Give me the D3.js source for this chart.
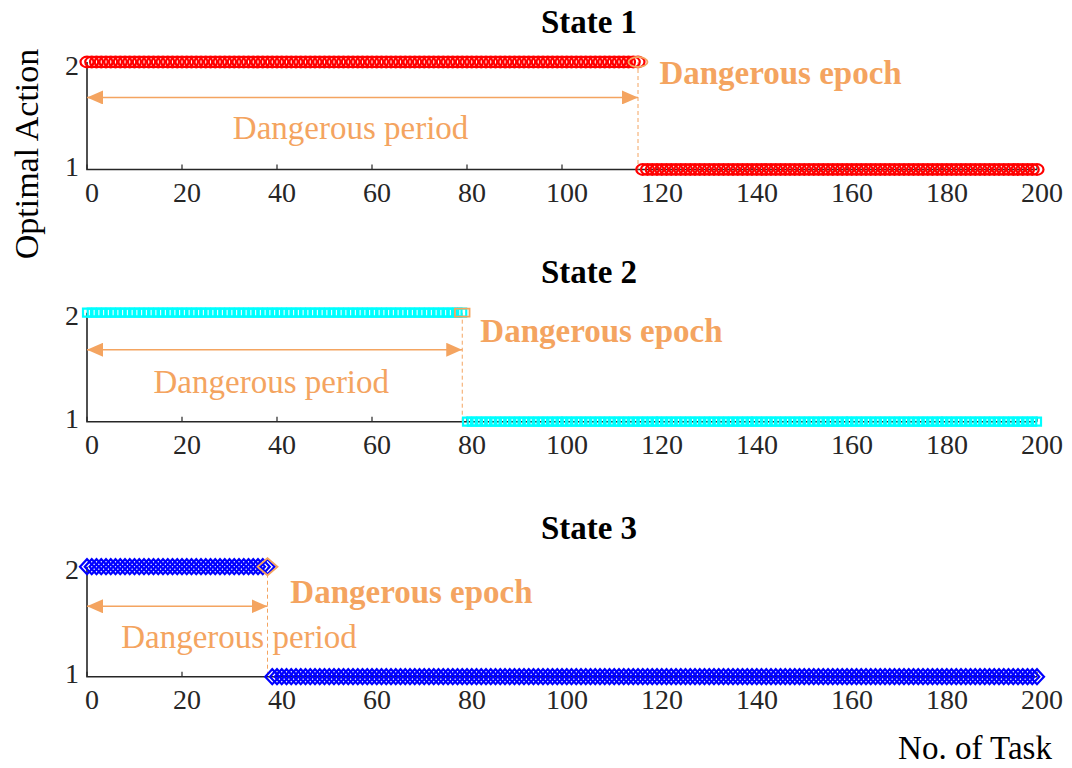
<!DOCTYPE html>
<html>
<head>
<meta charset="utf-8">
<script src="https://cdn.jsdelivr.net/npm/d3@7"></script>
<style>
  body { margin: 0; background: #fff; }
  svg text { font-family: 'Liberation Serif', 'Times New Roman', serif; }
</style>
</head>
<body>
<div id="chart"></div>
<script>
// data
const stateNames = ['State 1', 'State 2', 'State 3'];
const taskRange = [0, 200];
const xTicks = [0, 20, 40, 60, 80, 100, 120, 140, 160, 180, 200];
const yTicks = [1, 2];
const actionBefore = 2;
const actionAfter = 1;
const dangerousEpoch = [116, 79, 38];   // last task with action 2
const arrowLevel = [1.67, 1.66, 1.64];
const periodLabelX = [55.5, 38.8, 32];
const periodLabelY = [1.39, 1.36, 1.36];
const epochLabelX = [120.5, 82.8, 42.8];
const epochLabelY = [1.9, 1.83, 1.77];
const markerColors = ['#ff0000', '#00ffff', '#0000ff'];
const markerShapes = ['circle', 'square', 'diamond'];

const orange = '#f4a460';
const axisColor = '#262626';

const width = 1072, height = 768;
const panels = [
    { top: 62, bottom: 169.5, title: 22 },
    { top: 312.7, bottom: 421.7, title: 272 },
    { top: 566.7, bottom: 676.7, title: 528 }
];

const svg = d3.select('#chart')
    .append('svg')
        .attr('width', width)
        .attr('height', height);

const x = d3.scaleLinear()
    .domain(taskRange)
    .range([87, 1037]);

// marker path generators
function markerPath(shape, big) {
    if (shape === 'circle') {
        let rx = big ? 9.5 : 6.5, ry = big ? 5 : 5.3;
        return 'M' + (-rx) + ',0A' + rx + ',' + ry + ' 0 1,0 ' + rx + ',0A' + rx + ',' + ry + ' 0 1,0 ' + (-rx) + ',0Z';
    }
    if (shape === 'square') {
        let hw = big ? 7.3 : 4, hh = 4;
        return 'M' + (-hw) + ',' + (-hh) + 'H' + hw + 'V' + hh + 'H' + (-hw) + 'Z';
    }
    let hw = big ? 10 : 7, hh = big ? 8.5 : 7.5;
    return 'M' + (-hw) + ',0L0,' + (-hh) + 'L' + hw + ',0L0,' + hh + 'Z';
}

// arrow heads
const defs = svg.append('defs');
defs.append('marker')
    .attr('id', 'arrowHead')
    .attr('viewBox', '0 0 16 14')
    .attr('refX', 16)
    .attr('refY', 7)
    .attr('markerWidth', 16)
    .attr('markerHeight', 14)
    .attr('markerUnits', 'userSpaceOnUse')
    .attr('orient', 'auto-start-reverse')
    .append('path')
        .attr('d', 'M0,0L16,7L0,14Z')
        .attr('fill', orange);

panels.forEach((p, i) => {
    let y = d3.scaleLinear()
        .domain([1, 2])
        .range([p.bottom, p.top]);

    let tasks = d3.range(taskRange[0], taskRange[1] + 1);
    let actions = tasks.map(t => ({ task: t, action: t <= dangerousEpoch[i] ? actionBefore : actionAfter }));

    let g = svg.append('g').attr('class', 'panel-' + (i + 1));

    // title
    g.append('text')
        .attr('x', 589)
        .attr('y', p.title)
        .attr('text-anchor', 'middle')
        .attr('dominant-baseline', 'central')
        .style('font-size', '33px')
        .style('font-weight', 'bold')
        .attr('fill', '#000')
        .text(stateNames[i]);

    // axes lines
    g.append('path')
        .attr('d', 'M' + x(0) + ',' + y(2) + 'V' + y(1) + 'H' + x(200))
        .attr('fill', 'none')
        .attr('stroke', axisColor)
        .attr('stroke-width', 1.6);

    g.append('g')
        .selectAll('line')
        .data(xTicks)
        .enter()
        .append('line')
            .attr('x1', d => x(d))
            .attr('x2', d => x(d))
            .attr('y1', y(1))
            .attr('y2', y(1) - 5)
            .attr('stroke', axisColor)
            .attr('stroke-width', 1.2);

    g.append('g')
        .selectAll('text')
        .data(xTicks)
        .enter()
        .append('text')
            .attr('x', d => x(d) + 5)
            .attr('y', y(1) + 23)
            .attr('text-anchor', 'middle')
            .attr('dominant-baseline', 'central')
            .style('font-size', '28px')
            .attr('fill', axisColor)
            .text(d => d);

    g.append('g')
        .selectAll('text')
        .data(yTicks)
        .enter()
        .append('text')
            .attr('x', 79)
            .attr('y', d => y(d) + (d === 2 ? 3 : -3))
            .attr('text-anchor', 'end')
            .attr('dominant-baseline', 'central')
            .style('font-size', '28px')
            .attr('fill', axisColor)
            .text(d => d);

    // dashed epoch line
    g.append('line')
        .attr('x1', x(dangerousEpoch[i]))
        .attr('x2', x(dangerousEpoch[i]))
        .attr('y1', y(2))
        .attr('y2', y(1))
        .attr('stroke', orange)
        .attr('stroke-width', 1)
        .attr('stroke-dasharray', '4,3');

    // markers
    g.append('g')
        .selectAll('path')
        .data(actions)
        .enter()
        .append('path')
            .attr('transform', d => 'translate(' + x(d.task) + ',' + y(d.action) + ')')
            .attr('d', markerPath(markerShapes[i], false))
            .attr('fill', 'none')
            .attr('stroke', markerColors[i])
            .attr('stroke-width', 2.2);

    // highlighted epoch marker
    g.append('path')
        .attr('transform', 'translate(' + x(dangerousEpoch[i]) + ',' + y(actionBefore) + ')')
        .attr('d', markerPath(markerShapes[i], true))
        .attr('fill', 'none')
        .attr('stroke', orange)
        .attr('stroke-width', 1.8);

    // dangerous period arrow
    g.append('line')
        .attr('x1', x(0))
        .attr('x2', x(dangerousEpoch[i]))
        .attr('y1', y(arrowLevel[i]))
        .attr('y2', y(arrowLevel[i]))
        .attr('stroke', orange)
        .attr('stroke-width', 1.5)
        .attr('marker-start', 'url(#arrowHead)')
        .attr('marker-end', 'url(#arrowHead)');

    g.append('text')
        .attr('x', x(periodLabelX[i]))
        .attr('y', y(periodLabelY[i]))
        .attr('text-anchor', 'middle')
        .attr('dominant-baseline', 'central')
        .style('font-size', '33px')
        .attr('fill', orange)
        .text('Dangerous period');

    g.append('text')
        .attr('x', x(epochLabelX[i]))
        .attr('y', y(epochLabelY[i]))
        .attr('dominant-baseline', 'central')
        .style('font-size', '33px')
        .style('font-weight', 'bold')
        .attr('fill', orange)
        .text('Dangerous epoch');
});

// axis titles
svg.append('text')
    .attr('transform', 'translate(26,154) rotate(-90)')
    .attr('text-anchor', 'middle')
    .attr('dominant-baseline', 'central')
    .style('font-size', '34px')
    .attr('fill', '#000')
    .text('Optimal Action');

svg.append('text')
    .attr('x', 975)
    .attr('y', 748)
    .attr('text-anchor', 'middle')
    .attr('dominant-baseline', 'central')
    .style('font-size', '33px')
    .attr('fill', '#000')
    .text('No. of Task');
</script>
</body>
</html>
